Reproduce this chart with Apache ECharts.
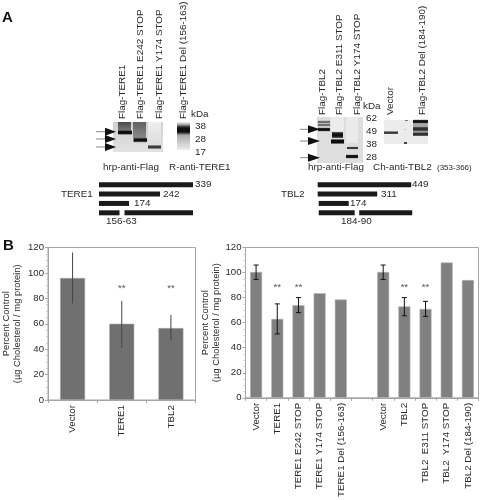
<!DOCTYPE html>
<html><head><meta charset="utf-8">
<style>html,body{margin:0;padding:0;background:#fff}#c{width:480px;height:500px}</style>
<script src="https://cdn.jsdelivr.net/npm/echarts@6/dist/echarts.min.js"></script></head>
<body><div id="c"></div>
<script>
const FONT='"Liberation Sans",Arial,sans-serif';
// Panel B left
const catsL=['Vector','TERE1','TBL2'];
const valsL=[96,60,56.6];
const lowL=[76,41,47];
const highL=[116,78,67];
const starsL=[null,88,88];
// Panel B right
const catsR=['Vector','TERE1','TERE1 E242 STOP','TERE1 Y174 STOP','TERE1 Del (156-163)','','Vector','TBL2','TBL2  E311 STOP','TBL2  Y174 STOP','TBL2 Del (184-190)'];
const valsR=[100.5,63,74,83.5,78.5,null,100.5,73,71,108,94];
const lowR=[94.5,51,68,null,null,null,94.5,65.5,65,null,null];
const highR=[106,75,80,null,null,null,106,80,77,null,null];
const starsR=[null,88,88,null,null,null,null,88,88,null,null];
const yTicks=[0,120,20];
// Panel A schematic segments (drawn lengths as in the picture)
const schemCats=['full','stop1','stop2','del'];
const tereSeg1=[94,61,30,20.5];
const tereGap=[0,0,0,5];
const tereSeg2=[0,0,0,68.5];
const tblSeg1=[93.5,59.5,30,36];
const tblGap=[0,0,0,4.5];
const tblSeg2=[0,0,0,53];
const tblOffset=[0,0,1,1];

const txt=(x,y,t,o={})=>({type:'text',x,y,rotation:o.r?Math.PI/2:0,silent:true,z:20,style:{text:t,fill:o.c||'#2a2a2a',font:(o.w||'normal')+' '+(o.s||9.9)+'px '+FONT,textAlign:o.a||'left',textVerticalAlign:'middle'}});
const rect=(x,y,w,h,fill)=>({type:'rect',shape:{x,y,width:w,height:h},silent:true,z:10,style:{fill}});
const vgrad=(stops)=>new echarts.graphic.LinearGradient(0,0,0,1,stops.map(s=>({offset:s[0],color:s[1]})));
const arrow=(x0,x1,x2,y)=>[
 {type:'line',shape:{x1:x0,y1:y,x2:x1+2,y2:y},silent:true,z:12,style:{stroke:'#888',lineWidth:1}},
 {type:'polygon',shape:{points:[[x1,y-4],[x2,y],[x1,y+4]]},silent:true,z:12,style:{fill:'#111'}}];
// soft band: dark centre fading out at the edges
const band=(x,yc,w,h,dark)=>{const c=dark||'rgba(15,15,15,1)',e=c.replace(/,[^,]*\)$/,',0)');
 return rect(x,yc-h/2-1,w,h+2,vgrad([[0,e],[.3,c],[.7,c],[1,e]]));};
const D='rgba(15,15,15,1)',M='rgba(60,60,60,1)',L='rgba(110,110,110,1)';

const graphics=[
 txt(2,18,'A',{w:'bold',s:15,c:'#111'}),
 txt(3,246,'B',{w:'bold',s:15,c:'#111'}),
 // lane labels left
 txt(122.7,119,'Flag-TERE1',{r:1}),txt(140.7,119,'Flag-TERE1 E242 STOP',{r:1}),txt(159,119,'Flag-TERE1 Y174 STOP',{r:1}),txt(183,119,'Flag-TERE1 Del (156-163)',{r:1}),
 txt(191,114,'kDa'),txt(195,126,'38'),txt(195,139,'28'),txt(195,152,'17'),
 // lane labels right
 txt(322,115,'Flag-TBL2',{r:1}),txt(339,115,'Flag-TBL2 E311 STOP',{r:1}),txt(357,115,'Flag-TBL2 Y174 STOP',{r:1}),txt(390,115,'Vector',{r:1}),txt(422,115,'Flag-TBL2 Del (184-190)',{r:1}),
 txt(363,106,'kDa'),txt(366,118,'62'),txt(366,131,'49'),txt(366,144,'38'),txt(366,157,'28'),
 // blot 1
 rect(113,122,50,30,vgrad([[0,'#cfcfcf'],[1,'#e2e2e2']])),
 rect(118,122,13,10,vgrad([[0,'#4a4a4a'],[1,'#808080']])),band(118,132.5,14,3),
 rect(133,122,13,16,vgrad([[0,'#606060'],[1,'#8a8a8a']])),band(133.5,140,13.5,3.5),
 rect(148,122,13,22,vgrad([[0,'#efefef'],[1,'#dddddd']])),band(148,147,13,2.5,M),
 // blot 2
 rect(177,122,13,28,vgrad([[0,'#f2f2f2'],[.15,'#777'],[.55,'#b5b5b5'],[1,'#ececec']])),band(177,130,13,8),
 ...arrow(96,105,116,131.7),...arrow(96,105,116,139),...arrow(96,105,116,147),
 // blot 3
 rect(317,117,46,46,'#dedede'),
 band(318,122,12,1.5,L),band(318,125,12,1.5,L),band(318,129.5,12,2.5),
 rect(331,117,13,14,'#ececec'),
 rect(332,132,11,6,'#555'),band(332,135,11,3.5),band(331,141.5,13,4),
 rect(346,117,12,26,'#ebebeb'),band(347,148,11,1.2,M),band(346,156.5,12,2.5),
 ...arrow(300,308,320,129.3),...arrow(300,308,320,141),...arrow(300,308,320,157.7),
 // blot 4
 rect(384,120,44,24,'#ececec'),
 band(384,132.7,14,1.6,M),band(413,121.5,15,2.5),band(413,129,15,3.5),band(413,134.2,15,2.5),
 rect(413,123,15,13,'rgba(90,90,90,.45)'),
 rect(404,142,3,2,'#444'),rect(404.5,129,1,1,'#999'),rect(405,120,3,1,'#777'),
 // antibody labels
 txt(103,167,'hrp-anti-Flag'),txt(169,167,'R-anti-TERE1'),
 txt(308,167,'hrp-anti-Flag'),txt(373,167,'Ch-anti-TBL2'),txt(437,167.5,'(353-366)',{s:8}),
 // schematics text
 txt(61,194,'TERE1'),txt(195,184.5,'339'),txt(163,194,'242'),txt(134,203.5,'174'),txt(106,221,'156-63'),
 txt(281,194,'TBL2'),txt(412,184.5,'449'),txt(381,194,'311'),txt(350,203.5,'174'),txt(341,221,'184-90')
];

const axisGray='#a6a6a6';
const xAxisB=(g,cats)=>({type:'category',gridIndex:g,data:cats,
 axisLine:{lineStyle:{color:axisGray}},axisTick:{show:true,length:3,alignWithLabel:false,lineStyle:{color:axisGray}},
 axisLabel:{interval:0,rotate:90,fontFamily:FONT,fontSize:9.8,color:'#2a2a2a',margin:5}});
const yAxisB=(g)=>({type:'value',gridIndex:g,min:yTicks[0],max:yTicks[1],interval:yTicks[2],
 name:'Percent Control\n(µg Cholesterol / mg protein)',nameLocation:'middle',nameRotate:90,nameGap:g?23:25,
 nameTextStyle:{fontFamily:FONT,fontSize:9.4,color:'#2a2a2a',lineHeight:11},
 axisLine:{show:true,lineStyle:{color:axisGray}},axisTick:{show:true,length:3,lineStyle:{color:axisGray}},
 minorTick:{show:true,splitNumber:4,length:2,lineStyle:{color:'#c8c8c8'}},splitLine:{show:false},
 axisLabel:{fontFamily:FONT,fontSize:9.6,color:'#2a2a2a',margin:4}});
const errSeries=(g,low,high,cap,color,lw)=>({type:'custom',xAxisIndex:g,yAxisIndex:g,z:5,silent:true,
 data:low.map((l,i)=>l==null?null:[i,l,high[i]]).filter(Boolean),encode:{x:0,y:[1,2]},
 renderItem(p,api){const a=api.coord([api.value(0),api.value(1)]),b=api.coord([api.value(0),api.value(2)]);
  const st={stroke:color,lineWidth:lw,fill:null};const ch=[{type:'line',shape:{x1:a[0],y1:a[1],x2:b[0],y2:b[1]},style:st}];
  if(cap){ch.push({type:'line',shape:{x1:a[0]-cap,y1:a[1],x2:a[0]+cap,y2:a[1]},style:st},{type:'line',shape:{x1:b[0]-cap,y1:b[1],x2:b[0]+cap,y2:b[1]},style:st});}
  return {type:'group',children:ch};}});
const starSeries=(g,stars)=>({type:'scatter',xAxisIndex:g,yAxisIndex:g,symbolSize:1,itemStyle:{color:'transparent'},silent:true,data:stars,
 label:{show:true,position:'inside',formatter:p=>p.value==null?'':'**',fontFamily:FONT,fontSize:9.5,color:'#2a2a2a'}});
const schemSeries=(g,s1,gap,s2,off)=>{const base={type:'bar',xAxisIndex:g,yAxisIndex:g,stack:'s'+g,barWidth:5,silent:true};
 const col='#1a1a1a';
 return [
 {...base,data:off,itemStyle:{color:'transparent'}},
 {...base,data:s1,itemStyle:{color:col}},
 {...base,data:gap,itemStyle:{color:'transparent'}},
 {...base,data:s2,itemStyle:{color:col}}];};
const xSchem=(g,m)=>({type:'value',gridIndex:g,min:0,max:m,show:false});
const ySchem=(g)=>({type:'category',gridIndex:g,data:schemCats,inverse:true,show:false});

const option={animation:false,backgroundColor:'#fff',
 grid:[
  {left:44.5,top:247.5,width:151,height:152.5,show:true,borderColor:axisGray,borderWidth:1,backgroundColor:'transparent'},
  {left:245.5,top:247.5,width:233,height:152,show:true,borderColor:axisGray,borderWidth:1,backgroundColor:'transparent'},
  {left:99,top:180,width:94,height:37.5},
  {left:317.7,top:180,width:95,height:37.5}
 ],
 xAxis:[xAxisB(0,catsL),xAxisB(1,catsR),xSchem(2,94),xSchem(3,95)],
 yAxis:[yAxisB(0),yAxisB(1),ySchem(2),ySchem(3)],
 series:[
  {type:'bar',xAxisIndex:0,yAxisIndex:0,data:valsL,barWidth:25,silent:true,itemStyle:{color:'#707070',borderColor:'#a8a8a8',borderWidth:.6}},
  errSeries(0,lowL,highL,0,'#444',1),starSeries(0,starsL),
  {type:'bar',xAxisIndex:1,yAxisIndex:1,data:valsR,barWidth:12,silent:true,itemStyle:{color:'#808080',borderColor:'#b4b4b4',borderWidth:.6}},
  errSeries(1,lowR,highR,2.5,'#111',1),starSeries(1,starsR),
  ...schemSeries(2,tereSeg1,tereGap,tereSeg2,[0,0,0,0]),
  ...schemSeries(3,tblSeg1,tblGap,tblSeg2,tblOffset)
 ],
 graphic:{elements:graphics}};
echarts.init(document.getElementById('c'),null,{renderer:'canvas'}).setOption(option);
</script></body></html>
